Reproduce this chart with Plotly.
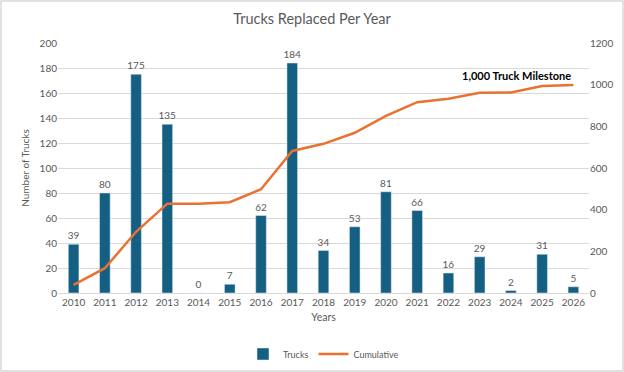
import plotly.graph_objects as go

years = list(range(2010, 2027))
trucks = [39, 80, 175, 135, 0, 7, 62, 184, 34, 53, 81, 66, 16, 29, 2, 31, 5]
cumulative = [39, 119, 294, 429, 429, 436, 498, 682, 716, 769, 850, 916, 932, 961, 963, 994, 999]
left_ticks = [0, 20, 40, 60, 80, 100, 120, 140, 160, 180, 200]
right_ticks = [0, 200, 400, 600, 800, 1000, 1200]

FONT = "Lato"
GRAY = "#595959"
BLUE = "#156082"
ORANGE = "#E97132"

fig = go.Figure()
fig.add_trace(go.Bar(
    x=years, y=trucks, name="Trucks", marker_color=BLUE, width=0.34,
    text=[str(v) for v in trucks], textposition="outside", constraintext="none",
    textfont=dict(size=10, color=GRAY, family=FONT), cliponaxis=False,
))
fig.add_trace(go.Scatter(
    x=years, y=cumulative, name="Cumulative", mode="lines",
    line=dict(color=ORANGE, width=2.5), yaxis="y2",
))
fig.add_annotation(
    x=years[-1], y=cumulative[-1], xref="x", yref="y2",
    text="<b>1,000 Truck Milestone</b>", showarrow=False,
    xanchor="right", yanchor="bottom", yshift=1,
    font=dict(size=11, color="#000000", family=FONT),
)

fig.update_layout(
    width=624, height=372,
    margin=dict(l=58, r=35, t=43, b=79, autoexpand=False),
    paper_bgcolor="white", plot_bgcolor="white",
    font=dict(family=FONT, color=GRAY, size=10),
    title=dict(text="Trucks Replaced Per Year", x=0.5, xanchor="center",
               y=1 - 19 / 372, yanchor="middle", yref="container",
               font=dict(size=14.5, color=GRAY, family=FONT)),
    showlegend=True,
    legend=dict(orientation="h", x=0.5, xanchor="center", y=-0.244, yanchor="middle",
                itemwidth=30, tracegroupgap=0,
                font=dict(size=9, color=GRAY, family=FONT)),
    xaxis=dict(range=[2009.5, 2026.5], tickvals=years, showgrid=False, showline=True,
               linecolor="#d9d9d9", ticks="", zeroline=False,
               tickfont=dict(size=10, color=GRAY),
               title=dict(text="Years", font=dict(size=10.5, color=GRAY), standoff=6)),
    yaxis=dict(range=[0, 200], tickvals=left_ticks, showgrid=True, gridcolor="#d9d9d9",
               zeroline=False, ticks="", tickfont=dict(size=10, color=GRAY),
               title=dict(text="Number of Trucks", font=dict(size=10, color=GRAY), standoff=8)),
    yaxis2=dict(range=[0, 1200], tickvals=right_ticks, overlaying="y", side="right",
                showgrid=False, zeroline=False, ticks="", tickfont=dict(size=10, color=GRAY)),
)
# outer light border like the Excel chart frame
fig.add_shape(type="rect", xref="paper", yref="paper",
              x0=-57 / 531, x1=1 + 34 / 531, y0=-78 / 250, y1=1 + 42 / 250,
              line=dict(color="#d9d9d9", width=1.5), layer="below")

fig.write_html("out.html", config={"displayModeBar": False},
               post_script="document.body.style.margin='0';document.body.style.overflow='hidden';")
